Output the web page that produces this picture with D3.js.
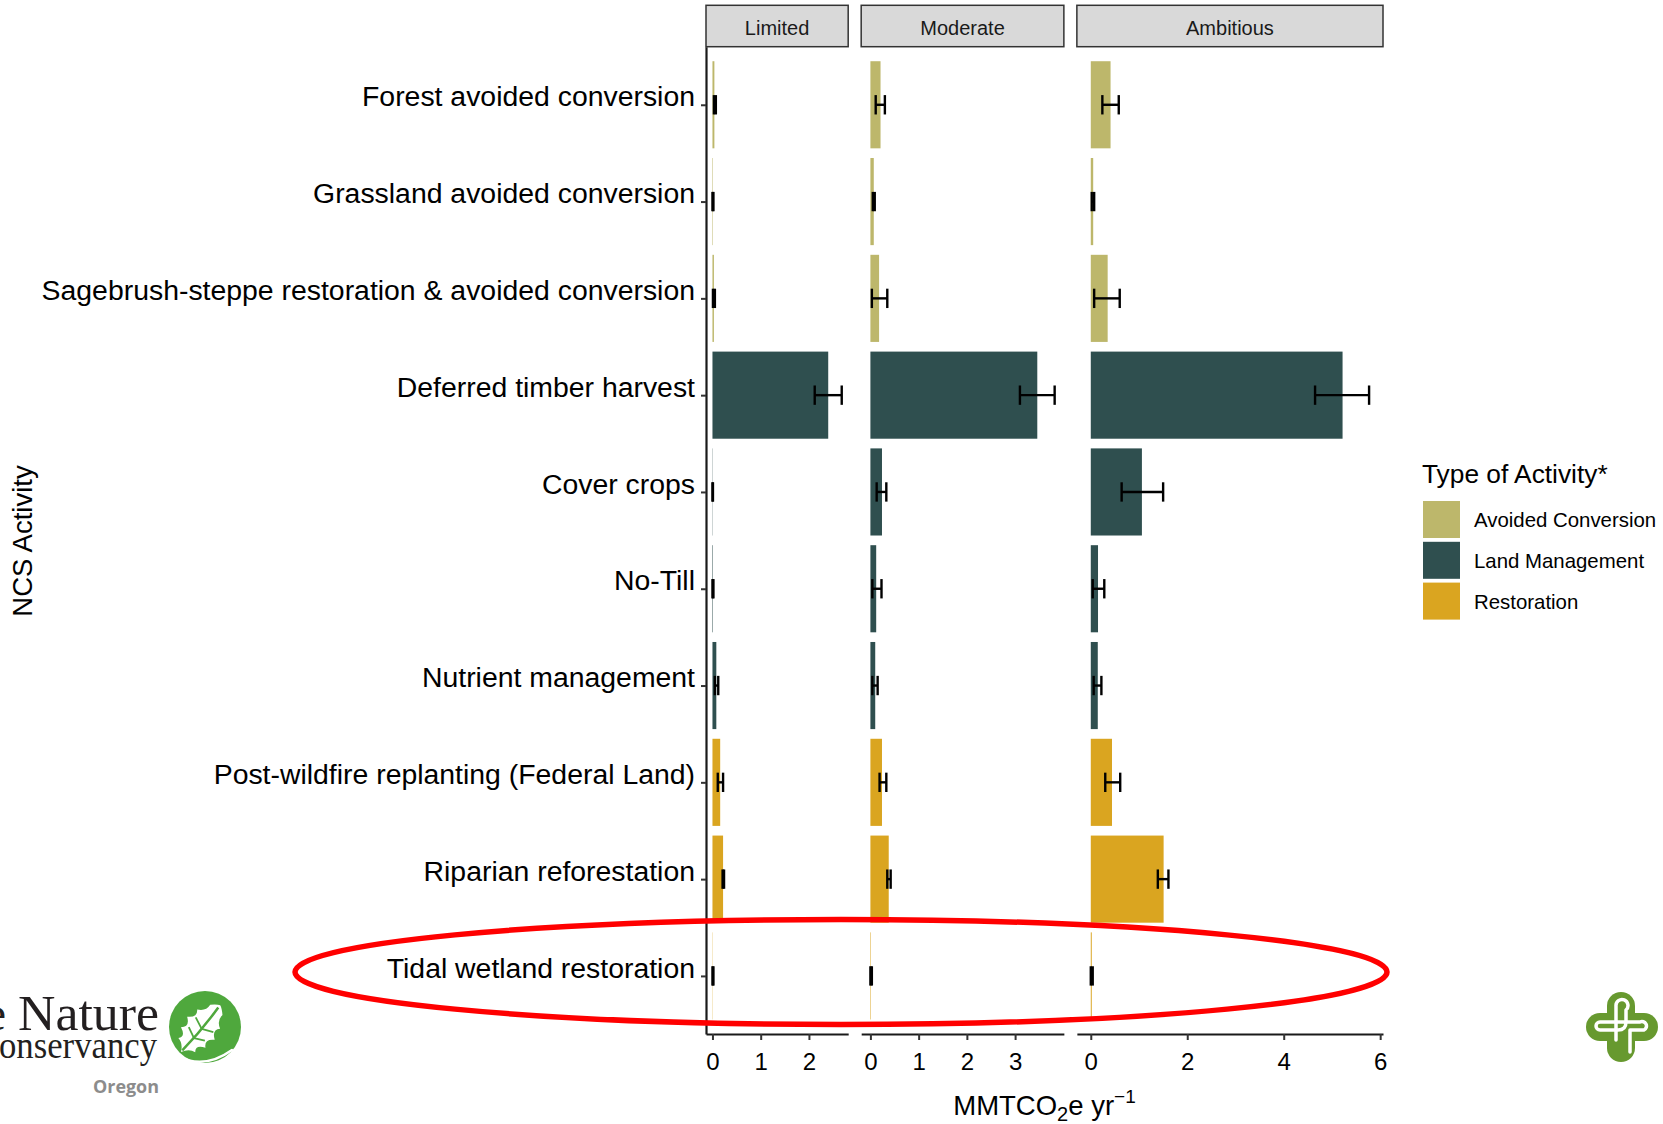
<!DOCTYPE html>
<html><head><meta charset="utf-8">
<script src="https://cdn.jsdelivr.net/npm/d3@7"></script>
<style>html,body{margin:0;padding:0;background:#fff;} svg{display:block;}</style>
</head><body>
<svg id="chart" width="1663" height="1124"></svg>
<script>
// ---------------- DATA ----------------
const categories = [
  "Forest avoided conversion",
  "Grassland avoided conversion",
  "Sagebrush-steppe restoration & avoided conversion",
  "Deferred timber harvest",
  "Cover crops",
  "No-Till",
  "Nutrient management",
  "Post-wildfire replanting (Federal Land)",
  "Riparian reforestation",
  "Tidal wetland restoration"
];
const activityTypes = [
  "Avoided Conversion","Avoided Conversion","Avoided Conversion",
  "Land Management","Land Management","Land Management","Land Management",
  "Restoration","Restoration","Restoration"
];
const scenarios = ["Limited", "Moderate", "Ambitious"];

const limitedValues = [0.04, 0.01, 0.03, 2.40, 0.005, 0.01, 0.08, 0.16, 0.22, 0.005];
const limitedLow    = [0.03, 0.00, 0.01, 2.12, 0.00, 0.00, 0.05, 0.11, 0.21, 0.00];
const limitedHigh   = [0.07, 0.02, 0.05, 2.68, 0.01, 0.02, 0.12, 0.22, 0.24, 0.02];

const moderateValues = [0.21, 0.07, 0.18, 3.46, 0.24, 0.12, 0.10, 0.24, 0.38, 0.01];
const moderateLow    = [0.11, 0.05, 0.03, 3.10, 0.13, 0.04, 0.04, 0.19, 0.35, 0.00];
const moderateHigh   = [0.30, 0.09, 0.35, 3.82, 0.33, 0.23, 0.15, 0.33, 0.42, 0.03];

const ambitiousValues = [0.41, 0.05, 0.35, 5.22, 1.06, 0.15, 0.145, 0.44, 1.51, 0.02];
const ambitiousLow    = [0.24, 0.02, 0.07, 4.65, 0.64, 0.04, 0.06, 0.30, 1.39, 0.00];
const ambitiousHigh   = [0.58, 0.07, 0.60, 5.77, 1.50, 0.28, 0.22, 0.61, 1.61, 0.04];

const limitedTicks = [0, 1, 2];
const moderateTicks = [0, 1, 2, 3];
const ambitiousTicks = [0, 2, 4, 6];

const typeNames = ["Avoided Conversion", "Land Management", "Restoration"];
const typeColors = ["#BDB76B", "#2F4F4F", "#DAA520"];

// ---------------- LAYOUT ----------------
const FONT = "'Liberation Sans', Arial, Helvetica, sans-serif";
const svg = d3.select("#chart");
const plotLeft = 706, plotRight = 1383, panelGap = 13;
const plotTop = 46.7, plotBottom = 1034, stripTop = 5.3;

const panels = [
  {name: scenarios[0], values: limitedValues, low: limitedLow, high: limitedHigh, ticks: limitedTicks},
  {name: scenarios[1], values: moderateValues, low: moderateLow, high: moderateHigh, ticks: moderateTicks},
  {name: scenarios[2], values: ambitiousValues, low: ambitiousLow, high: ambitiousHigh, ticks: ambitiousTicks}
];
panels.forEach(p => { const M = d3.max(p.high); p.domain = [-0.05 * M, 1.05 * M]; });
const totalUnits = d3.sum(panels, p => p.domain[1] - p.domain[0]);
const pxPerUnit = (plotRight - plotLeft - 2 * panelGap) / totalUnits;
let cursor = plotLeft;
panels.forEach(p => {
  p.x0 = cursor;
  p.x1 = cursor + (p.domain[1] - p.domain[0]) * pxPerUnit;
  p.scale = d3.scaleLinear().domain(p.domain).range([p.x0, p.x1]);
  cursor = p.x1 + panelGap;
});

const y = d3.scalePoint().domain(categories).range([plotTop, plotBottom]).padding(0.6);
const step = y.step();
const color = d3.scaleOrdinal().domain(typeNames).range(typeColors);

// ---------------- PANELS ----------------
panels.forEach(p => {
  const g = svg.append("g");
  const rows = categories.map((c, i) => ({c, t: activityTypes[i], v: p.values[i], lo: p.low[i], hi: p.high[i]}));
  g.selectAll("rect.bar").data(rows).join("rect")
    .attr("x", d => p.scale(0))
    .attr("width", d => Math.max(0, p.scale(d.v) - p.scale(0)))
    .attr("y", d => y(d.c) - 0.45 * step)
    .attr("height", 0.9 * step)
    .attr("fill", d => color(d.t));
  const eb = g.selectAll("g.eb").data(rows).join("g")
    .attr("stroke", "#000").attr("stroke-width", 2.4).attr("fill", "none");
  eb.append("line").attr("x1", d => p.scale(d.lo)).attr("x2", d => p.scale(d.hi))
    .attr("y1", d => y(d.c)).attr("y2", d => y(d.c));
  eb.append("line").attr("x1", d => p.scale(d.lo)).attr("x2", d => p.scale(d.lo))
    .attr("y1", d => y(d.c) - 0.1 * step).attr("y2", d => y(d.c) + 0.1 * step);
  eb.append("line").attr("x1", d => p.scale(d.hi)).attr("x2", d => p.scale(d.hi))
    .attr("y1", d => y(d.c) - 0.1 * step).attr("y2", d => y(d.c) + 0.1 * step);

  svg.append("rect").attr("x", p.x0).attr("y", stripTop)
    .attr("width", p.x1 - p.x0).attr("height", plotTop - stripTop)
    .attr("fill", "#D9D9D9").attr("stroke", "#333").attr("stroke-width", 1.5);
  svg.append("text").attr("x", (p.x0 + p.x1) / 2).attr("y", 35)
    .attr("text-anchor", "middle").attr("font-family", FONT).attr("font-size", 20)
    .attr("fill", "#1a1a1a").text(p.name);

  const ax = svg.append("g").attr("transform", `translate(0,${plotBottom})`)
    .call(d3.axisBottom(p.scale).tickValues(p.ticks).tickFormat(d3.format("d"))
      .tickSize(6).tickSizeOuter(0).tickPadding(13));
  ax.select(".domain").attr("stroke", "#1a1a1a").attr("stroke-width", 2.2);
  ax.selectAll(".tick line").attr("stroke", "#333").attr("stroke-width", 2);
  ax.selectAll(".tick text").attr("font-family", FONT).attr("font-size", 24).attr("fill", "#000");
});

const ay = svg.append("g").attr("transform", `translate(${plotLeft},0)`)
  .call(d3.axisLeft(y).tickSize(5).tickSizeOuter(0).tickPadding(6));
ay.select(".domain").attr("stroke", "#1a1a1a").attr("stroke-width", 2.2);
ay.selectAll(".tick line").attr("stroke", "#333").attr("stroke-width", 2);
ay.selectAll(".tick text").attr("font-family", FONT).attr("font-size", 28.4)
  .attr("fill", "#000").attr("dy", "0.04em");

svg.append("text").attr("transform", "translate(32,541) rotate(-90)")
  .attr("text-anchor", "middle").attr("font-family", FONT).attr("font-size", 27.5)
  .attr("fill", "#000").text("NCS Activity");

const xt = svg.append("text").attr("x", (plotLeft + plotRight) / 2).attr("y", 1115)
  .attr("text-anchor", "middle").attr("font-family", FONT).attr("font-size", 27.5).attr("fill", "#000");
xt.append("tspan").text("MMTCO");
xt.append("tspan").attr("dy", 6).attr("font-size", 20).text("2");
xt.append("tspan").attr("dy", -6).text("e yr");
xt.append("tspan").attr("dy", -12).attr("font-size", 19).text("\u22121");

svg.append("text").attr("x", 1422).attr("y", 483).attr("font-family", FONT)
  .attr("font-size", 26.3).attr("fill", "#000").text("Type of Activity*");
const lg = svg.selectAll("g.leg").data(typeNames).join("g")
  .attr("transform", (d, i) => `translate(1423,${519.5 + i * 40.8})`);
lg.append("rect").attr("x", 0).attr("y", -18.5).attr("width", 37).attr("height", 37)
  .attr("fill", d => color(d));
lg.append("text").attr("x", 51).attr("y", 7.5).attr("font-family", FONT)
  .attr("font-size", 20.4).attr("fill", "#000").text(d => d);

svg.append("ellipse").attr("cx", 841).attr("cy", 972).attr("rx", 546).attr("ry", 52.5)
  .attr("fill", "none").attr("stroke", "#FF0000").attr("stroke-width", 5.5);

// ---------------- LOGOS ----------------
const SERIF = "'Liberation Serif', 'DejaVu Serif', serif";
svg.append("text").attr("x", 6).attr("y", 1030).attr("text-anchor", "end")
  .attr("font-family", SERIF).attr("font-size", 48).attr("fill", "#231f20").text("The");
svg.append("text").attr("x", 18).attr("y", 1030).attr("font-family", SERIF)
  .attr("font-size", 50).attr("fill", "#231f20")
  .attr("textLength", 141).attr("lengthAdjust", "spacingAndGlyphs").text("Nature");
svg.append("text").attr("x", -1).attr("y", 1058).attr("font-family", SERIF)
  .attr("font-size", 38).attr("fill", "#231f20")
  .attr("textLength", 158).attr("lengthAdjust", "spacingAndGlyphs").text("onservancy");
svg.append("text").attr("x", 93).attr("y", 1093).attr("font-family", "'Open Sans', sans-serif")
  .attr("font-weight", "bold").attr("font-size", 18).attr("fill", "#8c8c8c")
  .attr("textLength", 66).attr("lengthAdjust", "spacingAndGlyphs").text("Oregon");
svg.append("circle").attr("cx", 205).attr("cy", 1027).attr("r", 36).attr("fill", "#4FA83D");
const leafG = svg.append("g").attr("transform", "translate(181,1052) rotate(-50) scale(1.0)");
leafG.append("path").attr("d",
  "M0,0 Q8,-4 9,-11 Q15,-6 19,-16 Q25,-9 31,-18 Q37,-9 43,-15 Q47,-7 55,-8 Q60,-3 61,0 Q60,3 55,8 Q47,7 43,15 Q37,9 31,18 Q25,9 19,16 Q15,6 9,11 Q8,4 0,0 Z")
  .attr("fill", "#fff");
leafG.append("path").attr("d", "M2,0 Q30,2 58,0").attr("stroke", "#4FA83D").attr("stroke-width", 2.5).attr("fill", "none");
leafG.append("path").attr("d", "M19,1 L24,-10 M31,1 L36,-11 M19,1 L24,11 M31,1 L36,12")
  .attr("stroke", "#4FA83D").attr("stroke-width", 1.8).attr("fill", "none");
svg.append("path").attr("d", "M178,1056 Q204,1070 232,1050")
  .attr("fill", "none").attr("stroke", "#fff").attr("stroke-width", 2.5).attr("stroke-linecap", "round");

// PSU logo
const psu = svg.append("g");
psu.append("rect").attr("x", 1607).attr("y", 992).attr("width", 28).attr("height", 70).attr("rx", 14).attr("fill", "#67992F");
psu.append("rect").attr("x", 1586).attr("y", 1013).attr("width", 72).attr("height", 28).attr("rx", 14).attr("fill", "#67992F");
psu.append("path").attr("d",
  "M1616,1040 L1616,1006 A6,6 0 1 1 1626,1010 L1626,1022 Q1626,1030 1618,1030 L1600,1030 A4,4 0 0 1 1600,1022 L1640,1022 A4,4 0 0 1 1644,1030 L1630,1030 L1630,1052")
  .attr("fill", "none").attr("stroke", "#fff").attr("stroke-width", 3.5)
  .attr("stroke-linecap", "round").attr("stroke-linejoin", "round");
</script>
</body></html>
